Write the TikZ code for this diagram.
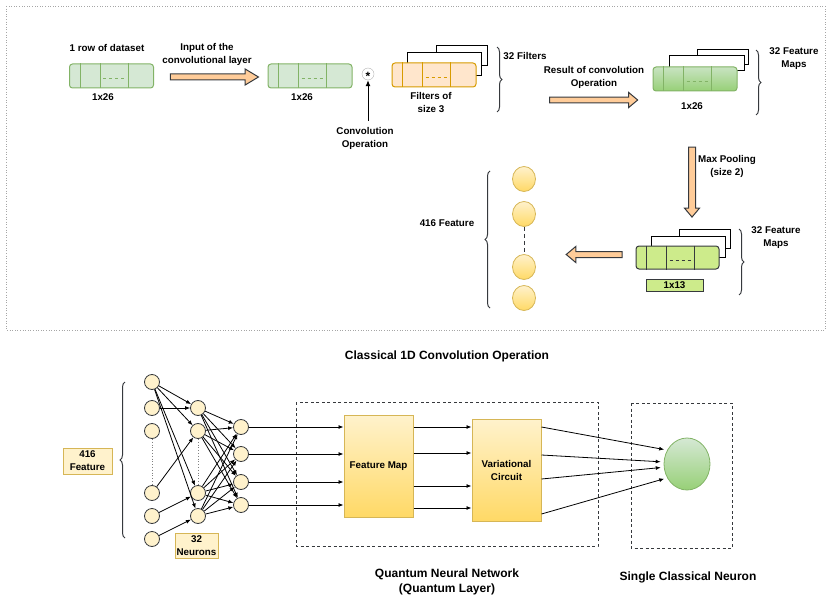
\documentclass[tikz,border=0pt]{standalone}
\usepackage{fontspec}
\setmainfont{Liberation Sans}
\usepackage{xcolor}
\usepackage{tikz}
\usetikzlibrary{positioning, arrows.meta, shapes.geometric, shapes.arrows, decorations.pathreplacing}

\definecolor{cellfill}{HTML}{D5E8D4}
\definecolor{cellline}{HTML}{82B366}
\definecolor{leaf}{HTML}{97D077}
\definecolor{filtfill}{HTML}{FFE6CC}
\definecolor{filtline}{HTML}{D79B00}
\definecolor{limefill}{HTML}{CDEB8B}
\definecolor{darkline}{HTML}{36393D}
\definecolor{peach}{HTML}{FFCC99}
\definecolor{cream}{HTML}{FFF2CC}
\definecolor{gold}{HTML}{FFD966}
\definecolor{goldline}{HTML}{D6B656}

\tikzset{
  lbl/.style={align=center, inner sep=1pt},
  title/.style={align=center, inner sep=1pt, font=\fontsize{12}{14.5}\selectfont\bfseries},
  segbox/.style={rounded corners=3pt, minimum width=84pt, minimum height=24pt, inner sep=0pt, line width=1pt},
  sheet/.style={draw=black, fill=white, line width=1pt},
  blockarrow/.style={single arrow, draw=darkline, fill=peach, line width=1pt, inner sep=2.5pt,
    single arrow head extend=5pt, single arrow tip angle=70},
  brace/.style={decorate, decoration={brace, amplitude=5pt}, line width=1pt, darkline},
  bead/.style={ellipse, draw=goldline, top color=cream, bottom color=gold, minimum width=23pt, minimum height=25pt, line width=0.8pt},
  unit/.style={circle, draw=darkline, fill=cream, minimum size=15pt, inner sep=0pt, line width=0.8pt},
  link/.style={-{Latex[length=5pt, width=4pt]}, line width=0.8pt, black},
  tag/.style={draw=goldline, fill=cream, align=center, inner sep=1pt, line width=1pt},
  qbox/.style={draw=goldline, top color=cream, bottom color=gold, minimum width=69pt, minimum height=102pt, align=center, line width=1pt},
  frame/.style={draw=darkline, dash pattern=on 3pt off 2.5pt, line width=0.9pt}
}

\begin{document}
\begin{tikzpicture}[x=1pt, y=-1pt, font=\fontsize{9.8}{13}\selectfont\bfseries]
\useasboundingbox (0,0) rectangle (827,599);
\draw[gray!70, dotted, line width=0.6pt] (6,6) rectangle (825,330);

% top row: dataset row and convolution input
\node[lbl] (rowlbl) at (107,48) {1 row of dataset};
\node[segbox, draw=cellline, fill=cellfill] (row) at (111.5,76) {};
\node[lbl] (rowsize) at (103,97) {1x26};
\node[blockarrow, minimum height=88pt, single arrow tip angle=62] (arrA) at (212,77) {};
\node[lbl] (inlbl) at (207,54.5) {Input of the\\convolutional layer};
\node[segbox, draw=cellline, fill=cellfill] (inp) at (310,76) {};
\node[lbl] (insize) at (302,97) {1x26};

% convolution with the filters
\node[circle, draw=gray!60, minimum size=12pt, inner sep=0pt] (conv) at (368,74) {};
\node[inner sep=0pt, font=\fontsize{12}{12}\selectfont\bfseries] (convstar) at ([yshift=-2.5pt]conv.center) {*};
\coordinate (convtail) at (368,121);
\draw[-{Latex[length=6pt, width=5pt]}, line width=1pt] (convtail) -- (conv);
\node[lbl] (convlbl) at (365,138.5) {Convolution\\Operation};

\draw[sheet] (436,46) rectangle (487,66);
\draw[sheet] (407,53) rectangle (481,76);
\node[segbox, draw=filtline, fill=filtfill] (filt) at (434,75) {};
\node[lbl] (filtlbl) at (431,103) {Filters of\\size 3};
\draw[brace] (497,47) -- (497,112);
\node[lbl] (nfilt) at (525,56) {32 Filters};

% result of the convolution
\node[lbl] (reslbl) at (594,77) {Result of convolution\\Operation};
\node[blockarrow, minimum height=88pt, inner sep=2.3pt, single arrow head extend=4.7pt, single arrow tip angle=80] (arrB) at (592,100) {};
\draw[sheet] (697,50) rectangle (748,65);
\draw[sheet] (669,56) rectangle (744,71);
\node[segbox, draw=cellline, top color=cellfill!80!leaf, bottom color=leaf] (fmapa) at (695,79) {};
\node[lbl] (fmsize) at (692,106) {1x26};
\draw[brace] (756,50) -- (756,115);
\node[lbl] (nmapa) at (794,58.5) {32 Feature\\Maps};

% max pooling
\node[blockarrow, minimum height=70pt, inner sep=3pt, single arrow head extend=4pt, single arrow tip angle=80, shape border rotate=270] (arrC) at (692,180) {};
\node[lbl] (poollbl) at (727,166) {Max Pooling\\(size 2)};
\draw[sheet] (679,229) rectangle (730,248);
\draw[sheet] (651,236) rectangle (725,257);
\node[segbox, draw=darkline, fill=limefill, minimum width=83pt, minimum height=23pt] (fmapb) at (677.5,257.5) {};
\node[draw=darkline, fill=limefill, minimum width=57pt, minimum height=12pt, inner sep=0pt, line width=1pt] (poolsize) at (674.5,285) {1x13};
\draw[brace] (739,229) -- (739,295);
\node[lbl] (nmapb) at (776,237.5) {32 Feature\\Maps};

% cell dividers
\foreach \b/\c in {row/cellline, inp/cellline, filt/filtline, fmapa/cellline, fmapb/darkline} {
  \foreach \s in {11,31,59}
    \draw[\c, line width=1pt] ([xshift=\s pt]\b.north west) -- ([xshift=\s pt]\b.south west);
  \draw[\c, line width=1pt, dash pattern=on 3pt off 3pt] ([xshift=34pt, yshift=-3pt]\b.west) -- ([xshift=58pt, yshift=-3pt]\b.west);
}

% flatten
\node[blockarrow, minimum height=56pt, single arrow tip angle=80, shape border rotate=180] (arrD) at (596,254.5) {};
\foreach \n/\y in {a/179, b/214, c/267, d/298}
  \node[bead] (f\n) at (524,\y) {};
\draw[darkline, line width=1pt, dash pattern=on 4pt off 3pt] (fb) -- (fc);
\draw[brace] (490,308) -- (490,171);
\node[lbl] (nfeat) at (447,223) {416 Feature};

\node[title] (convtitle) at (447,356) {Classical 1D Convolution Operation};

% classical layers
\foreach \n/\y in {a/382, b/408, c/431, d/493, e/516, f/539}
  \node[unit] (p\n) at (152,\y) {};
\foreach \n/\y in {a/408, b/431, c/493, d/516}
  \node[unit] (h\n) at (198,\y) {};
\foreach \n/\y in {a/427, b/454, c/482, d/505}
  \node[unit] (q\n) at (241,\y) {};
\draw[gray, dotted, line width=0.8pt] (pc) -- (pd);
\draw[gray, dotted, line width=0.8pt] (hb) -- (hc);
\foreach \s/\t in {a/a, a/b, a/c, a/d, b/a, d/b, e/c, f/d}
  \draw[link] (p\s) -- (h\t);
\foreach \s in {a,b,c,d}
  \foreach \t in {a,b,c,d}
    \draw[link] (h\s) -- (q\t);
\draw[brace] (125,538) -- (125,382);
\node[tag, minimum width=49pt, minimum height=26pt] (featbox) at (87.5,461) {416\\Feature};
\node[tag, minimum width=43pt, minimum height=25pt] (neurbox) at (196.5,545.5) {32\\Neurons};

% quantum layer
\draw[frame] (296,402) rectangle (598,546);
\node[qbox] (fmap) at (378.5,466) {Feature Map};
\node[qbox] (vc) at (506.5,470) {Variational\\Circuit};
\foreach \n in {a,b,c,d}
  \draw[link] (q\n) -- (q\n -| fmap.west);
\foreach \y in {427,453,486,508}
  \draw[link] (fmap.east |- 0,\y) -- (vc.west |- 0,\y);
\node[title] (qtitle) at (447,582) {Quantum Neural Network\\(Quantum Layer)};

% output neuron
\draw[frame] (631,403) rectangle (732,548);
\node[ellipse, draw=cellline, top color=cellfill, bottom color=leaf, minimum width=46pt, minimum height=52pt, line width=0.8pt] (neuron) at (687,464) {};
\foreach \y/\a in {427/145, 455/175, 479/188, 514/215}
  \draw[link, shorten >=3pt] (vc.east |- 0,\y) -- (neuron.\a);
\node[title] (ntitle) at (688,577) {Single Classical Neuron};
\end{tikzpicture}
\end{document}
